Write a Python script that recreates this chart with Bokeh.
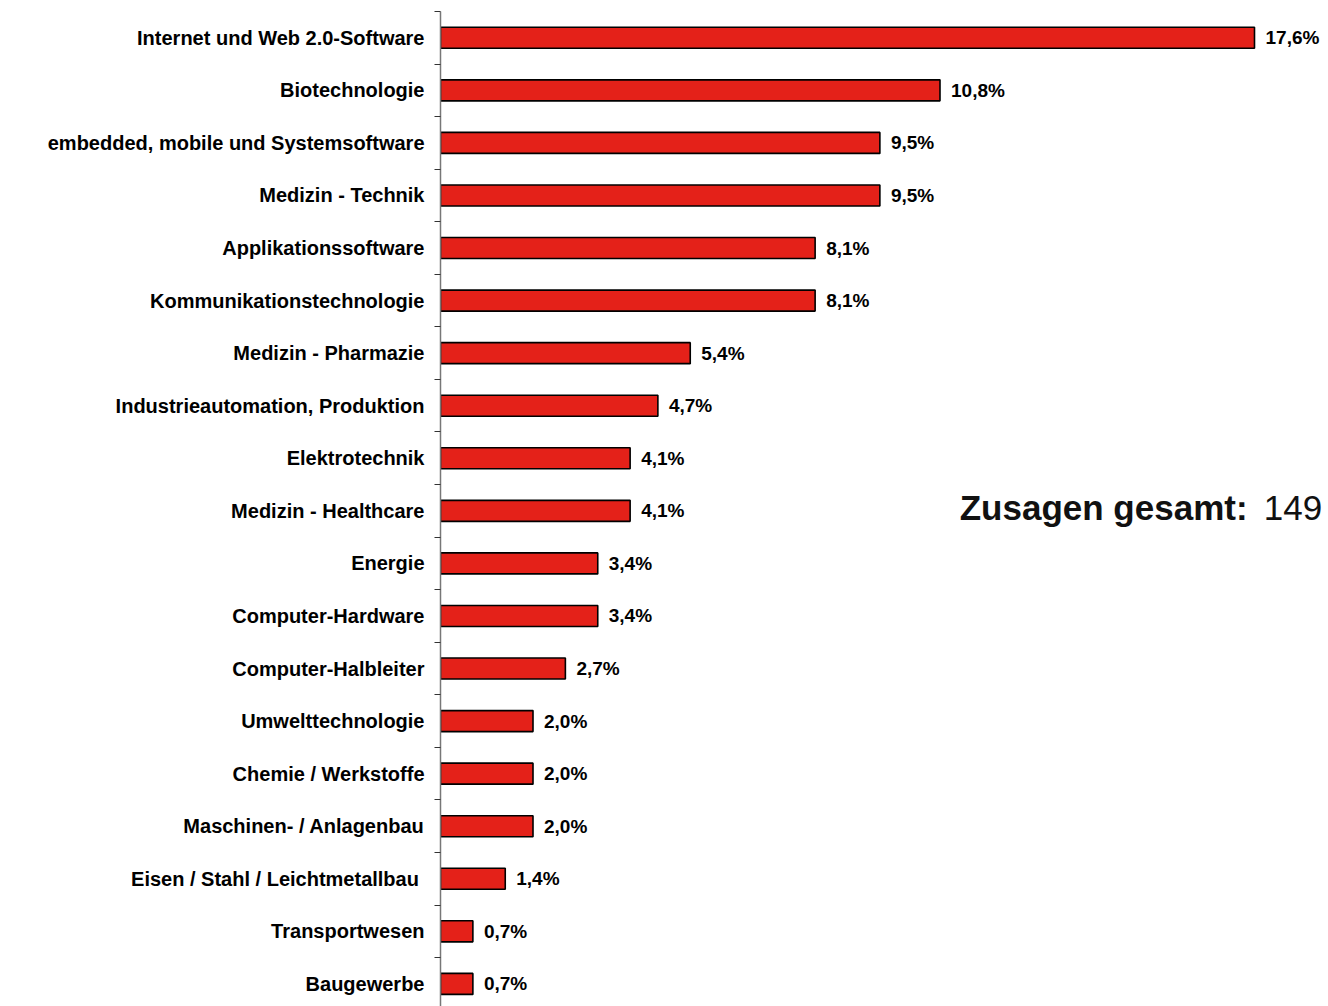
from bokeh.plotting import figure
from bokeh.models import Range1d, FixedTicker, ColumnDataSource, Label
from bokeh.embed import file_html
from bokeh.resources import INLINE
from bokeh.core.properties import value

categories = [
    "Internet und Web 2.0-Software",
    "Biotechnologie",
    "embedded, mobile und Systemsoftware",
    "Medizin - Technik",
    "Applikationssoftware",
    "Kommunikationstechnologie",
    "Medizin - Pharmazie",
    "Industrieautomation, Produktion",
    "Elektrotechnik",
    "Medizin - Healthcare",
    "Energie",
    "Computer-Hardware",
    "Computer-Halbleiter",
    "Umwelttechnologie",
    "Chemie / Werkstoffe",
    "Maschinen- / Anlagenbau",
    "Eisen / Stahl / Leichtmetallbau ",
    "Transportwesen",
    "Baugewerbe",
]
shares = [17.6, 10.8, 9.5, 9.5, 8.1, 8.1, 5.4, 4.7, 4.1, 4.1, 3.4, 3.4, 2.7, 2.0, 2.0, 2.0, 1.4, 0.7, 0.7]
total_label = "Zusagen gesamt:"
total_value = "149"

pos = list(range(len(categories)))
labels = [("%.1f" % v).replace(".", ",") + "%" for v in shares]
src = ColumnDataSource(dict(y=pos, x=shares, lab=labels))

FONT = "Liberation Sans"

p = figure(width=1328, height=1006, output_backend="svg", toolbar_location=None,
           x_axis_location=None,
           x_range=Range1d(0, 19.2), y_range=Range1d(18.43, -0.5),
           min_border_left=440, min_border_right=0, min_border_top=11, min_border_bottom=0)
p.outline_line_color = None
p.xgrid.visible = False
p.ygrid.visible = False

p.hbar(y="y", right="x", left=0, height=0.4, source=src,
       fill_color="#E42119", line_color="black", line_width=1.6)

p.text(x="x", y="y", text="lab", source=src, x_offset=11,
       text_font=value(FONT), text_font_style="bold", text_font_size="19px",
       text_align="left", text_baseline="middle", text_color="black")

ax = p.yaxis[0]
ax.ticker = FixedTicker(ticks=pos, minor_ticks=[i - 0.5 for i in range(len(categories) + 1)])
ax.major_label_overrides = {i: c for i, c in zip(pos, categories)}
ax.major_tick_out = 0
ax.major_tick_in = 0
ax.minor_tick_out = 6
ax.minor_tick_in = 0
ax.minor_tick_line_color = "#333333"
ax.axis_line_color = "#777777"
ax.axis_line_width = 1.5
ax.major_label_standoff = 10
ax.major_label_text_font = FONT
ax.major_label_text_font_style = "bold"
ax.major_label_text_font_size = "20px"
ax.major_label_text_color = "black"

p.add_layout(Label(x=17.45, y=8.94, text=total_label, text_font=FONT, text_font_style="bold",
                   text_font_size="35px", text_align="right", text_baseline="middle",
                   text_color="#111111"))
p.add_layout(Label(x=17.8, y=8.94, text=total_value, text_font=FONT,
                   text_font_size="35px", text_align="left", text_baseline="middle",
                   text_color="#111111"))

open("out.html", "w").write(file_html(p, INLINE))
